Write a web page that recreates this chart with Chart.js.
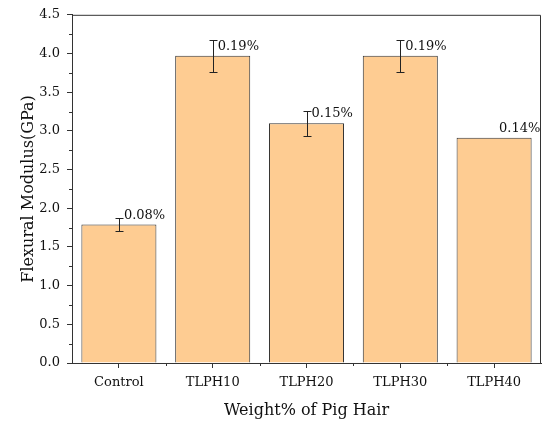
<!DOCTYPE html>
<html>
<head>
<meta charset="utf-8">
<script src="https://cdn.jsdelivr.net/npm/chart.js@4/dist/chart.umd.min.js"></script>
<style>
  html, body { margin: 0; padding: 0; background: #fff; }
  #wrap { width: 543px; height: 423px; position: relative; }
</style>
</head>
<body>
<div id="wrap"><canvas id="chart"></canvas></div>
<script>
// data
const categories = ['Control', 'TLPH10', 'TLPH20', 'TLPH30', 'TLPH40'];
const modulus = [1.79, 3.97, 3.10, 3.97, 2.91];
const errors = [0.09, 0.21, 0.16, 0.21, 0];
const percentLabels = ['0.08%', '0.19%', '0.15%', '0.19%', '0.14%'];
const yTicks = [0, 0.5, 1, 1.5, 2, 2.5, 3, 3.5, 4, 4.5];

const FONT = "'DejaVu Serif', serif";
const AXIS = '#333';

// frame, minor ticks, error bars and % labels
const extras = {
    id: 'extras',
    afterDatasetsDraw(chart) {
        const ctx = chart.ctx;
        const area = chart.chartArea;
        const x = chart.scales.x;
        const y = chart.scales.y;

        ctx.save();
        ctx.strokeStyle = AXIS;
        ctx.lineWidth = 1;

        // top + right border
        ctx.beginPath();
        ctx.moveTo(area.left, area.top + 0.5);
        ctx.lineTo(area.right - 0.5, area.top + 0.5);
        ctx.lineTo(area.right - 0.5, area.bottom);
        ctx.stroke();

        // minor y ticks
        ctx.beginPath();
        for (let i = 0; i < yTicks.length - 1; i++) {
            const py = Math.round(y.getPixelForValue((yTicks[i] + yTicks[i + 1]) / 2)) + 0.5;
            ctx.moveTo(area.left, py);
            ctx.lineTo(area.left - 3, py);
        }
        // minor x ticks at category borders
        for (let i = 1; i < categories.length; i++) {
            const px = Math.round((x.getPixelForValue(i - 1) + x.getPixelForValue(i)) / 2) + 0.5;
            ctx.moveTo(px, area.bottom);
            ctx.lineTo(px, area.bottom + 3);
        }
        ctx.stroke();

        // error bars
        ctx.strokeStyle = '#222';
        ctx.beginPath();
        modulus.forEach((v, i) => {
            if (!errors[i]) return;
            const cx = Math.round(x.getPixelForValue(i)) + 0.5;
            const top = Math.round(y.getPixelForValue(v + errors[i])) + 0.5;
            const bot = Math.round(y.getPixelForValue(v - errors[i])) + 0.5;
            ctx.moveTo(cx, top);
            ctx.lineTo(cx, bot);
            ctx.moveTo(cx - 4, top);
            ctx.lineTo(cx + 4, top);
            ctx.moveTo(cx - 4, bot);
            ctx.lineTo(cx + 4, bot);
        });
        ctx.stroke();

        // percentage labels
        ctx.fillStyle = '#111';
        ctx.font = '13px ' + FONT;
        ctx.textAlign = 'left';
        ctx.textBaseline = 'middle';
        modulus.forEach((v, i) => {
            ctx.fillText(percentLabels[i], x.getPixelForValue(i) + 5, y.getPixelForValue(v + 0.12));
        });
        ctx.restore();
    }
};

new Chart(document.getElementById('chart'), {
    type: 'bar',
    data: {
        labels: categories,
        datasets: [{
            data: modulus,
            backgroundColor: '#fecc92',
            borderColor: '#333',
            borderWidth: 1,
            categoryPercentage: 0.8,
            barPercentage: 1.0
        }]
    },
    options: {
        responsive: true,
        maintainAspectRatio: false,
        animation: false,
        layout: {padding: {left: 0, right: 2, top: 10, bottom: 0}},
        plugins: {legend: {display: false}, tooltip: {enabled: false}},
        scales: {
            x: {
                grid: {offset: false, drawOnChartArea: false, tickLength: 5, tickColor: AXIS},
                border: {color: AXIS},
                ticks: {color: '#111', font: {family: FONT, size: 13}, padding: 7},
                title: {display: true, text: 'Weight% of Pig Hair', color: '#111',
                        font: {family: FONT, size: 16}, padding: {top: 0, bottom: 3}},
                afterFit(scale) { scale.height = 60; }
            },
            y: {
                min: 0,
                max: 4.5,
                grid: {drawOnChartArea: false, tickLength: 5, tickColor: AXIS},
                border: {color: AXIS},
                ticks: {
                    stepSize: 0.5,
                    color: '#111',
                    font: {family: FONT, size: 13},
                    padding: 7,
                    callback: v => v.toFixed(1)
                },
                title: {display: true, text: 'Flexural Modulus(GPa)', color: '#111',
                        font: {family: FONT, size: 16}, padding: {top: 19, bottom: 0}},
                afterFit(scale) { scale.width = 72; }
            }
        }
    },
    plugins: [extras]
});
</script>
</body>
</html>
